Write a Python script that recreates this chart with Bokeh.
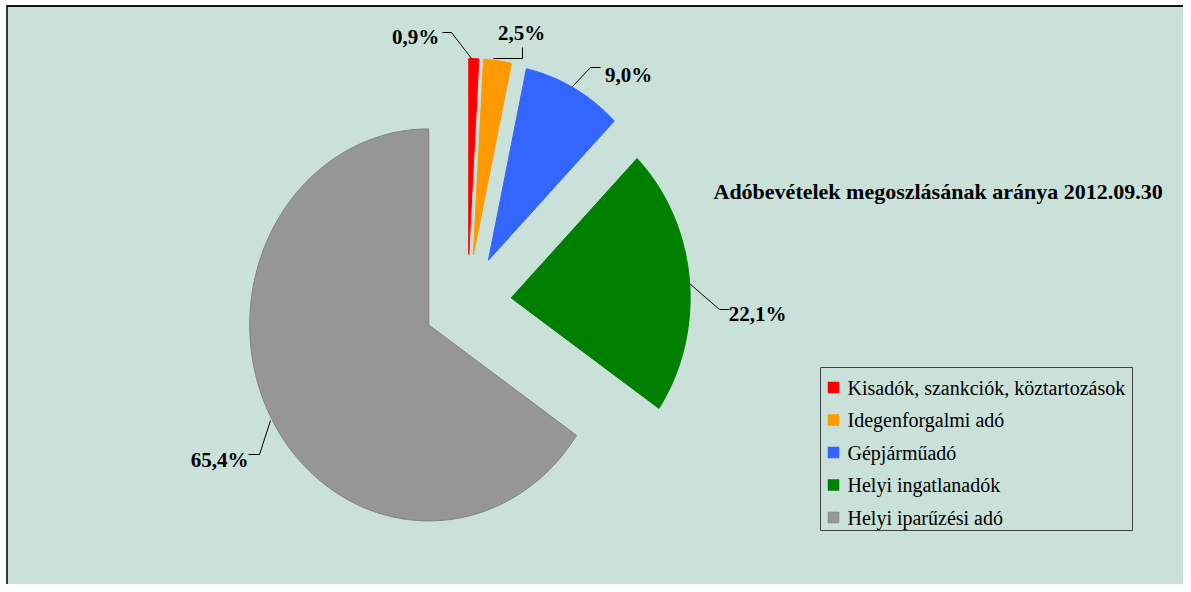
import numpy as np
from bokeh.plotting import figure
from bokeh.models import Range1d
from bokeh.core.properties import value
from bokeh.embed import file_html
from bokeh.resources import INLINE

# ---- data ----
categories = ["Kisadók, szankciók, köztartozások", "Idegenforgalmi adó",
              "Gépjárműadó", "Helyi ingatlanadók", "Helyi iparűzési adó"]
shares = [0.9, 2.5, 9.0, 22.1, 65.4]
colors = ["#FF0000", "#FF9900", "#3366FF", "#008000", "#969696"]
title_text = "Adóbevételek megoszlásának aránya 2012.09.30"

# ---- layout (pixel coordinates) ----
W, H = 1183, 584
BG = "#C9E1D9"
SERIF = "Liberation Serif"

p = figure(width=W, height=H, x_range=Range1d(0, W), y_range=Range1d(H, 0),
           output_backend="svg", toolbar_location=None, min_border=0,
           x_axis_type=None, y_axis_type=None,
           background_fill_color="#FFFFFF", border_fill_color="#FFFFFF",
           outline_line_color=None)
p.grid.visible = False

# chart area + border (left + top visible)
p.quad(left=[7], right=[W], top=[6], bottom=[H], fill_color=BG, line_color=None)
p.segment(x0=[6.5], y0=[5], x1=[6.5], y1=[H], line_color="#2F3A37", line_width=2)
p.segment(x0=[6], y0=[5.5], x1=[W], y1=[5.5], line_color="#111111", line_width=2)

# ---- pie (elliptical, exploded, clockwise from 12 o'clock) ----
cx, cy = 467, 302
rx, ry = 179.0, 196.0
explode = 48.0 / 196.0
total = float(sum(shares))
fr = np.array(shares) / total
ends = np.cumsum(fr) * 2 * np.pi
starts = ends - fr * 2 * np.pi
xs, ys = [], []
for a0, a1 in zip(starts, ends):
    mid = (a0 + a1) / 2
    ox = cx + rx * explode * np.sin(mid)
    oy = cy - ry * explode * np.cos(mid)
    t = np.linspace(a0, a1, max(8, int((a1 - a0) * 80)))
    px = np.concatenate([[ox], ox + rx * np.sin(t)])
    py = np.concatenate([[oy], oy - ry * np.cos(t)])
    xs.append(px.tolist())
    ys.append(py.tolist())
line_cols = [c if c != "#969696" else "#808080" for c in colors]
p.patches(xs=xs, ys=ys, fill_color=colors, line_color=line_cols, line_width=1)

# ---- data labels with leader lines ----
label_pos = [(415, 36), (521, 32), (628, 74), (757, 313), (219, 459)]
leaders = [
    [(442, 32), (451, 32), (471, 58)],
    [(522, 47), (522, 58), (493, 58)],
    [(600, 67), (590, 67), (572, 86)],
    [(689, 283), (719, 309), (729, 309)],
    [(248, 454), (259, 454), (270, 420)],
]
p.multi_line(xs=[[pt[0] for pt in L] for L in leaders],
             ys=[[pt[1] for pt in L] for L in leaders],
             line_color="#000000", line_width=1)
labels = [f"{v:.1f}".replace(".", ",") + "%" for v in shares]
p.text(x=[q[0] for q in label_pos], y=[q[1] for q in label_pos], text=labels,
       text_font=value(SERIF), text_font_style="bold", text_font_size="21px",
       text_align="center", text_baseline="middle", text_color="#000000")

# ---- title ----
p.text(x=[713], y=[191], text=[title_text], text_font=value(SERIF),
       text_font_style="bold", text_font_size="22px", text_align="left",
       text_baseline="middle", text_color="#000000")

# ---- legend ----
p.quad(left=[820], right=[1132], top=[367], bottom=[530],
       fill_color=None, line_color="#404040", line_width=1)
ly = [387 + i * 32.5 for i in range(len(categories))]
p.rect(x=[833] * len(categories), y=ly, width=11, height=11,
       width_units="screen", height_units="screen",
       fill_color=colors, line_color=line_cols, line_width=0.5)
p.text(x=[847] * len(categories), y=ly, text=categories, text_font=value(SERIF),
       text_font_size="20px", text_align="left", text_baseline="middle",
       text_color="#000000")

open("out.html", "w").write(file_html(p, INLINE))
